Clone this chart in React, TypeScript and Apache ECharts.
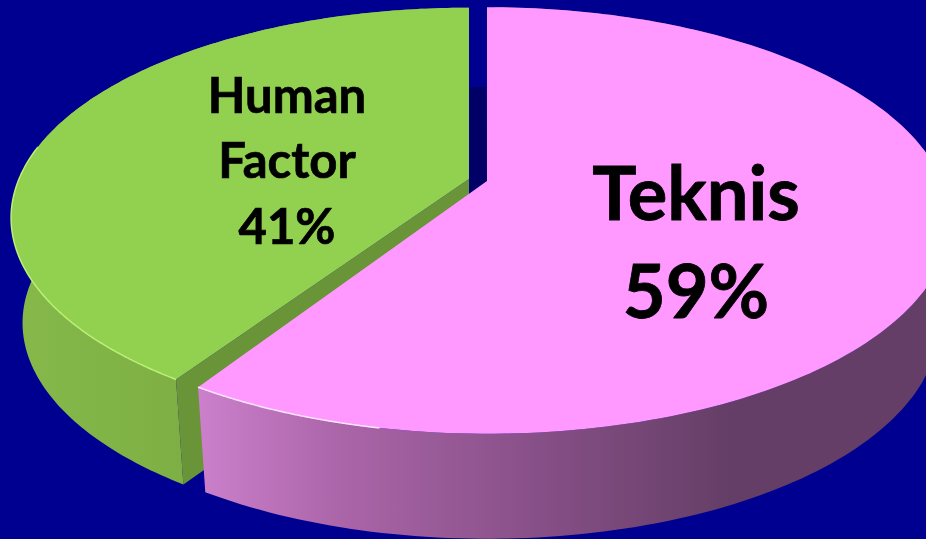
import React, { useEffect, useRef } from "react";
import * as echarts from "echarts";

const categories = ["Human Factor", "Teknis"];
const values = [41, 59];
const labelLines = [["Human", "Factor", "41%"], ["Teknis", "59%"]];

const WIDTH = 926;
const HEIGHT = 539;
const K = 0.185;
const BACKGROUND = "#000090";

const sliceStyles = [
  {
    cx: 469, cy: 179, rx: 450, ry: 203, gap: Math.PI / 180,
    top: "#92D050", cut: "#6A9438", edge: "#BDF076",
    wall: [[0, "#86B94A"], [1, "#6E9F3A"]],
    edgeSpan: 0.45,
  },
  {
    cx: 487, cy: 181, rx: 455, ry: 206, gap: 0,
    top: "#FF99FF", cut: "#000066", edge: "#FFE6FF",
    wall: [
      [0, "#CC80CC"],
      [0.18, "#AC66AA"],
      [0.445, "#885088"],
      [0.71, "#643E66"],
      [1, "#643E66"],
    ],
    edgeSpan: 0.1,
  },
];

const labelStyles = [
  { x: 287, ys: [94, 159, 225], size: 49, stroke: 0.7 },
  { x: 696, ys: [191, 289], size: 74, stroke: 0.8 },
];

const wallDepth = 105;
const wallScaleX = 0.975;

function project(s: any, angle: number, dy: number, scaleX: number) {
  const u = Math.sin(angle);
  const v = -Math.cos(angle);
  const w = 1 - K * v;
  return [s.cx + (s.rx * scaleX * u) / w, s.cy + dy + (s.ry * v) / w];
}

function arcPoints(s: any, a0: number, a1: number, dy: number, scaleX: number) {
  const pts: number[][] = [];
  const n = 180;
  for (let i = 0; i <= n; i++) {
    pts.push(project(s, a0 + ((a1 - a0) * i) / n, dy, scaleX));
  }
  return pts;
}

function sliceAngles(index: number) {
  const total = values.reduce((a, b) => a + b, 0);
  const teknis = (values[1] / total) * Math.PI * 2;
  return index === 1 ? [0, teknis] : [teknis + sliceStyles[0].gap, Math.PI * 2];
}

function renderSlice(params: any) {
  const i = params.dataIndex;
  const s = sliceStyles[i];
  const [a0, a1] = sliceAngles(i);
  const topArc = arcPoints(s, a0, a1, 0, 1);
  const lowArc = arcPoints(s, a0, a1, wallDepth, wallScaleX);
  const children: any[] = [];
  const centre = [s.cx, s.cy];

  const wallFill = new echarts.graphic.LinearGradient(
    0, 0, 1, 0,
    s.wall.map(([offset, color]: any) => ({ offset, color }))
  );

  if (i === 0) {
    const corner = topArc[0];
    const cornerLow = lowArc[0];
    children.push({
      type: "polygon",
      shape: { points: [centre, corner, cornerLow, [s.cx, s.cy + wallDepth]] },
      style: { fill: s.cut },
    });
    children.push({
      type: "polygon",
      shape: { points: [...topArc, ...lowArc.slice().reverse()] },
      style: { fill: wallFill },
    });
  } else {
    const greenX = sliceStyles[0].cx + 1;
    children.push({
      type: "polygon",
      shape: {
        points: [
          [greenX, 87],
          [s.cx - 1, 87],
          [s.cx, s.cy],
          [greenX, s.cy + 12],
        ],
      },
      style: { fill: s.cut },
    });
    children.push({
      type: "polygon",
      shape: { points: [...topArc.slice(1), ...lowArc.slice(1).reverse()] },
      style: { fill: wallFill },
    });
  }

  children.push({
    type: "polygon",
    shape: { points: [centre, ...topArc] },
    style: { fill: s.top },
  });

  const edgeArc =
    i === 0
      ? arcPoints(s, a0, a0 + (a1 - a0) * s.edgeSpan, 0, 1)
      : arcPoints(s, a1, a1 - (a1 - a0) * s.edgeSpan, 0, 1);
  children.push({
    type: "polyline",
    shape: { points: edgeArc },
    style: { stroke: s.edge, lineWidth: 1.5, fill: "none" },
  });

  const l = labelStyles[i];
  labelLines[i].forEach((text, li) => {
    children.push({
      type: "text",
      style: {
        text,
        x: l.x,
        y: l.ys[li],
        fill: "#000000",
        stroke: "#000000",
        lineWidth: l.stroke,
        font: `bold ${l.size}px Lato, sans-serif`,
        textAlign: "center",
        textVerticalAlign: "middle",
      },
    });
  });

  return { type: "group", children };
}

export default function App() {
  const ref = useRef<HTMLDivElement>(null);
  useEffect(() => {
    const chart = echarts.init(ref.current!, undefined, { renderer: "svg" });
    chart.setOption({
      animation: false,
      backgroundColor: BACKGROUND,
      series: [
        {
          type: "custom",
          coordinateSystem: "none",
          silent: true,
          clip: false,
          renderItem: renderSlice,
          data: categories.map((name, i) => ({ name, value: values[i] })),
        },
      ],
    });
    return () => chart.dispose();
  }, []);
  return (
    <div
      ref={ref}
      style={{ position: "fixed", left: 0, top: 0, width: WIDTH, height: HEIGHT }}
    />
  );
}
